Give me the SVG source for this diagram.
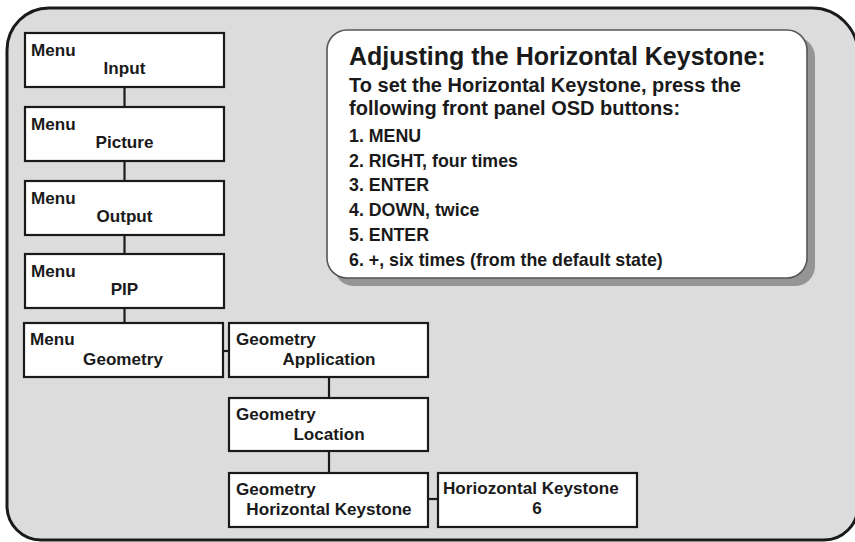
<svg xmlns="http://www.w3.org/2000/svg" width="855" height="542" viewBox="0 0 855 542">
<style>
.box{fill:#fff;stroke:#1a1a1a;stroke-width:2.2}
.t{font-family:"Liberation Sans",Arial,sans-serif;font-weight:bold;font-size:17.1px;fill:#1a1a1a}
.c{text-anchor:middle}
.conn line{stroke:#1a1a1a;stroke-width:2.2}
.ct{font-family:"Liberation Sans",Arial,sans-serif;font-weight:bold;fill:#1a1a1a}
</style>
<rect width="855" height="542" fill="#fff"/>
<path d="M 7 50 A 42 42 0 0 1 49 8 L 812 8 A 46 46 0 0 1 858 54 L 858 506 A 34 34 0 0 1 824 540 L 41 540 A 34 34 0 0 1 7 506 Z" fill="#dcdcdc" stroke="#1a1a1a" stroke-width="3"/>
<g id="callout">
<rect x="334" y="37" width="481" height="249" rx="20" fill="#959595"/>
<rect x="327" y="30" width="480" height="248" rx="20" fill="#fff" stroke="#555" stroke-width="1.6"/>
<text class="ct" x="349" y="65" font-size="25">Adjusting the Horizontal Keystone:</text>
<text class="ct" x="349" y="92" font-size="20">To set the Horizontal Keystone, press the</text>
<text class="ct" x="349" y="115" font-size="20">following front panel OSD buttons:</text>
<text class="ct" x="349" y="142" font-size="17.8">1. MENU</text>
<text class="ct" x="349" y="167" font-size="17.8">2. RIGHT, four times</text>
<text class="ct" x="349" y="191" font-size="17.8">3. ENTER</text>
<text class="ct" x="349" y="216" font-size="17.8">4. DOWN, twice</text>
<text class="ct" x="349" y="241" font-size="17.8">5. ENTER</text>
<text class="ct" x="349" y="266" font-size="17.8">6. +, six times (from the default state)</text>
</g>
<g class="conn" id="connectors">
<line x1="124.5" y1="87" x2="124.5" y2="107"/>
<line x1="124.5" y1="161" x2="124.5" y2="181"/>
<line x1="124.5" y1="235" x2="124.5" y2="254"/>
<line x1="124.5" y1="308" x2="124.5" y2="323"/>
<line x1="223" y1="351" x2="229" y2="351"/>
<line x1="329" y1="377" x2="329" y2="398"/>
<line x1="329" y1="451" x2="329" y2="473"/>
<line x1="428" y1="499" x2="438" y2="499"/>
</g>
<g id="menu-input">
<rect class="box" x="25" y="33" width="199" height="54"/>
<text class="t" x="31" y="56">Menu</text>
<text class="t c" x="124.5" y="74">Input</text>
</g>
<g id="menu-picture">
<rect class="box" x="25" y="107" width="199" height="54"/>
<text class="t" x="31" y="130">Menu</text>
<text class="t c" x="124.5" y="148">Picture</text>
</g>
<g id="menu-output">
<rect class="box" x="25" y="181" width="199" height="54"/>
<text class="t" x="31" y="204">Menu</text>
<text class="t c" x="124.5" y="222">Output</text>
</g>
<g id="menu-pip">
<rect class="box" x="25" y="254" width="199" height="54"/>
<text class="t" x="31" y="277">Menu</text>
<text class="t c" x="124.5" y="295">PIP</text>
</g>
<g id="menu-geometry">
<rect class="box" x="24" y="323" width="199" height="54"/>
<text class="t" x="30" y="345">Menu</text>
<text class="t c" x="123" y="365">Geometry</text>
</g>
<g id="geometry-application">
<rect class="box" x="229" y="323" width="199" height="54"/>
<text class="t" x="236" y="345">Geometry</text>
<text class="t c" x="329" y="365">Application</text>
</g>
<g id="geometry-location">
<rect class="box" x="229" y="398" width="199" height="53"/>
<text class="t" x="236" y="420">Geometry</text>
<text class="t c" x="329" y="440">Location</text>
</g>
<g id="geometry-hkeystone">
<rect class="box" x="229" y="473" width="199" height="54"/>
<text class="t" x="236" y="495">Geometry</text>
<text class="t c" x="329" y="515">Horizontal Keystone</text>
</g>
<g id="hkeystone-value">
<rect class="box" x="438" y="473" width="199" height="54"/>
<text class="t" x="443" y="494">Horiozontal Keystone</text>
<text class="t c" x="537" y="514">6</text>
</g>
</svg>
